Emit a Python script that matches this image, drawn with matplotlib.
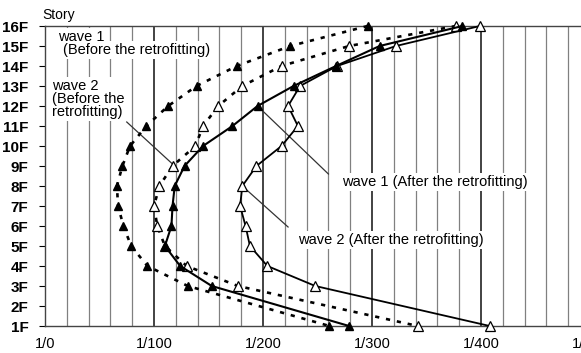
import numpy as np
import matplotlib
matplotlib.use('Agg')
import matplotlib.pyplot as plt

plt.rcParams['font.family'] = ['Liberation Sans', 'DejaVu Sans']

# 各层 (2F 没有标记点)
story = [16, 15, 14, 13, 12, 11, 10, 9, 8, 7, 6, 5, 4, 3, 1]

# 层间位移角的倒数 (1/x)
wave1_before = [296, 225, 176, 139, 113, 93, 78, 71, 66, 67, 72, 79, 94, 131, 261]
wave2_before = [377, 279, 217, 181, 159, 145, 138, 117, 105, 100, 103, 110, 130, 177, 342]
wave1_after = [383, 307, 267, 228, 195, 172, 145, 128, 119, 117, 116, 110, 124, 153, 279]
wave2_after = [399, 322, 268, 234, 223, 232, 217, 194, 181, 179, 184, 188, 204, 248, 408]

x_ticks = [0, 100, 200, 300, 400, 500]
x_labels = ['1/0', '1/100', '1/200', '1/300', '1/400', '1/500']
y_ticks = list(range(1, 17))
y_labels = [f'{i}F' for i in y_ticks]

W, H = 581, 353
fig = plt.figure(figsize=(W / 100, H / 100), dpi=100)
# 右边故意伸出画布, 跟原图一样被裁掉
ax = fig.add_axes([45 / W, 27 / H, 545 / W, 300 / H])

ax.set_xlim(0, 500)
ax.set_ylim(1, 16)

ax.set_xticks(x_ticks)
ax.set_xticklabels(x_labels, fontsize=10.5)
ax.set_xticks(np.arange(0, 501, 20), minor=True)
ax.set_yticks(y_ticks)
ax.set_yticklabels(y_labels, fontsize=11, fontweight='bold')
ax.tick_params(axis='x', which='both', length=0, pad=8)
ax.tick_params(axis='y', length=4, width=0.8, pad=8, direction='out')

ax.grid(which='minor', axis='x', color='#808080', lw=0.9, zorder=0)
ax.grid(which='major', axis='x', color='#222222', lw=1.2, zorder=0)
ax.set_axisbelow(True)
for s in ax.spines.values():
    s.set_color('#444444')
    s.set_linewidth(1.0)

dot = (0, (1.6, 2.6))
ax.plot(wave1_before, story, color='black', ls=dot, lw=1.9, marker='^',
        ms=6, mfc='black', mec='black', zorder=3, clip_on=False)
ax.plot(wave2_before, story, color='black', ls=dot, lw=1.9, marker='^',
        ms=7, mfc='white', mec='black', mew=0.9, zorder=3, clip_on=False)
ax.plot(wave2_after, story, color='black', ls='-', lw=1.3, marker='^',
        ms=7, mfc='white', mec='black', mew=0.9, zorder=4, clip_on=False)
ax.plot(wave1_after, story, color='black', ls='-', lw=1.5, marker='^',
        ms=6, mfc='black', mec='black', zorder=4, clip_on=False)

# 引出线
ax.plot([75, 117], [11.2, 9.1], color='#333333', lw=0.9, zorder=2)
ax.plot([195, 260], [12.0, 8.6], color='#333333', lw=0.9, zorder=2)
ax.plot([181, 223], [8.0, 5.95], color='#333333', lw=0.9, zorder=2)

box = dict(facecolor='white', edgecolor='none', pad=1.5)
ax.text(-2.8, 16.55, 'Story', fontsize=10, ha='left', va='center', clip_on=False)
ax.text(11.9, 15.45, 'wave 1', fontsize=10.5, ha='left', va='center', bbox=box, zorder=1.5)
ax.text(16.5, 14.8, '(Before the retrofitting)', fontsize=10.5, ha='left', va='center',
        bbox=box, zorder=1.5)
ax.text(6.4, 12.35, 'wave 2\n(Before the\nretrofitting)', fontsize=10.5, ha='left',
        va='center', linespacing=0.88, bbox=box, zorder=1.5)
ax.text(272.5, 8.2, 'wave 1 (After the retrofitting)', fontsize=10.5, ha='left',
        va='center', bbox=box, zorder=1.5)
ax.text(232, 5.3, 'wave 2 (After the retrofitting)', fontsize=10.5, ha='left',
        va='center', bbox=box, zorder=1.5)

fig.savefig('out.png', dpi=100)
